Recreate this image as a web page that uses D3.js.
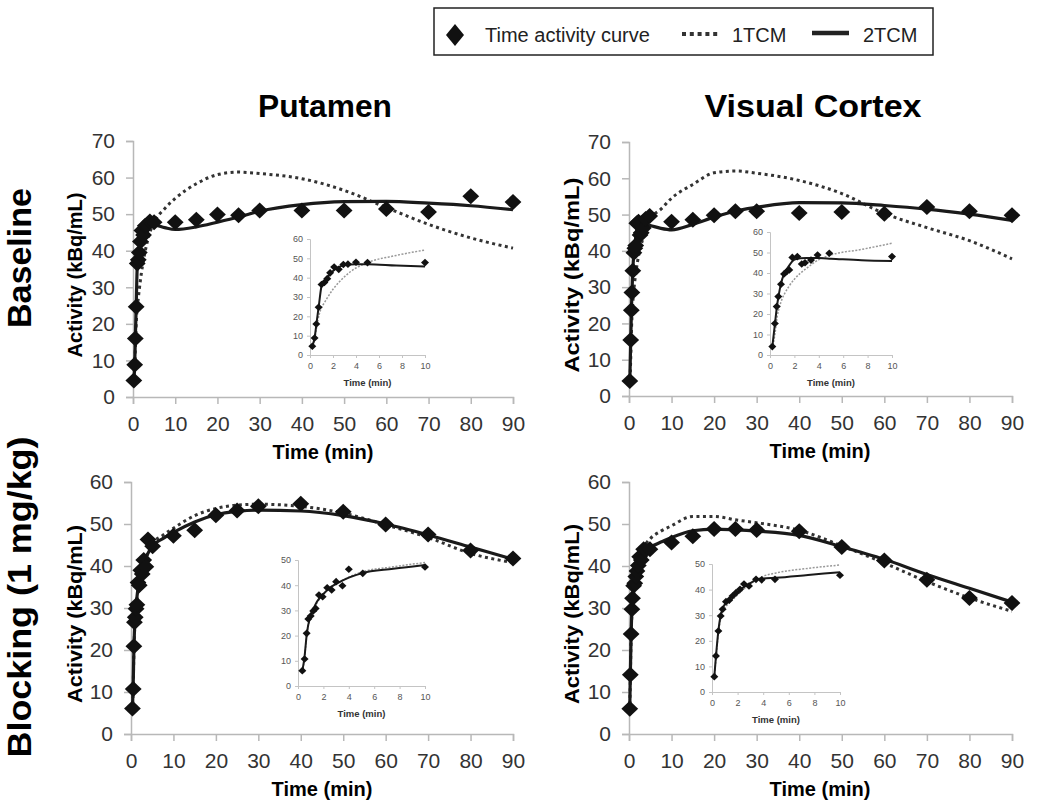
<!DOCTYPE html>
<html><head><meta charset="utf-8">
<script src="https://cdn.jsdelivr.net/npm/d3@7"></script>
<style>body{margin:0;background:#fff}</style>
</head><body>
<svg id="c" width="1050" height="812"></svg>
<script>
// ---------- DATA ----------
const timeTicksMain = [0,10,20,30,40,50,60,70,80,90];
const timeTicksInset = [0,2,4,6,8,10];
const activityTicksBaseline = [0,10,20,30,40,50,60,70];
const activityTicksBlocking = [0,10,20,30,40,50,60];
const insetTicksBaseline = [0,10,20,30,40,50,60];
const insetTicksBlocking = [0,10,20,30,40,50];

const columnTitles = ["Putamen", "Visual Cortex"];
const rowTitles = ["Baseline", "Blocking (1 mg/kg)"];
const legendLabels = ["Time activity curve", "1TCM", "2TCM"];

// Putamen, baseline
const putBaseTime = [0.2,0.4,0.55,0.75,1.0,1.25,1.5,1.75,2.1,2.5,2.9,3.3,4.0,5.0,10,15,20,25,30,40,50,60,70,80,90];
const putBaseTAC  = [4.5,8.8,16,24.7,36.5,37.5,39.5,42.5,45.5,44.3,46.8,47,48,47.8,47.8,48.5,49.9,49.7,51,51,51,51.4,50.6,54.9,53.3];
const putBaseFitTime = [0.2,0.4,0.6,0.8,1,1.25,1.5,2,2.5,3,4,5,7.5,10,15,20,25,30,40,50,60,70,80,90];
const putBase1TCM = [3,8,15,21,24.5,27,29.5,34,37.5,40.5,45,47.8,51.5,54.3,58.3,60.8,61.5,61.1,59.7,56.5,51.8,47.2,43.5,40.7];
const putBase2TCM = [4.5,9,18,27,35.5,38,40,43.5,45.5,46.5,47,47,46.3,45.8,46.5,47.8,49.2,50.8,52.6,53.4,53.5,53,52.3,51.2];

// Visual cortex, baseline
const vcBaseTime = [0.19,0.4,0.55,0.68,0.9,1.15,1.37,1.58,1.83,2.24,2.6,2.87,3.36,3.9,4.86,10,15,20,25,30,40,50,60,70,80,90];
const vcBaseTAC  = [4.1,15.4,23.6,28.5,34.5,39.5,40.7,41.5,47.6,48,44.4,45,46.3,48.8,49.6,48,48.6,49.8,50.9,50.9,50.4,50.7,50.2,52.1,50.9,49.8];
const vcBaseFitTime = [0.2,0.4,0.6,0.8,1,1.25,1.5,2,2.5,3,4,5,7.5,10,15,20,25,30,40,50,60,70,80,90];
const vcBase1TCM = [3,10,19,24,27.5,30.5,33,37,40,42.3,46.5,48.8,51.5,54.5,58.3,61.5,62,61.4,59.4,55.8,50.3,46.4,42.8,37.8];
const vcBase2TCM = [4.5,15,25,32,37,40.5,43,46.5,47.2,47.3,47.3,47,46.2,45.8,47.3,49.3,51,52,53.3,53.2,52.5,51.5,50.1,48.4];

// Putamen, blocking
const putBlockTime = [0.34,0.52,0.68,0.81,1.0,1.2,1.39,1.65,1.94,2.3,2.65,3.0,3.5,4.0,5.1,10,15,20,25,30,40,50,60,70,80,90];
const putBlockTAC  = [6.1,10.7,20.9,26.6,27.8,29.8,30.8,36.1,35.4,39,38.1,41.4,39.8,46.3,44.7,47.2,48.5,52.1,53.2,54.2,54.8,52.9,49.9,47.5,43.7,41.8];
const putBlockFitTime = [0.34,0.5,0.7,1,1.25,1.5,2,2.5,3,4,5,7.5,10,15,20,25,30,40,50,60,70,80,90];
const putBlock1TCM = [5.5,10.5,20.5,27.5,30.5,33,36.3,38.8,40.5,43.2,45.2,47.3,49,52,53.7,54.5,54.7,54.2,52.6,49.8,46.8,43,40.8];
const putBlock2TCM = [6,11,21,28,31,33.5,36.5,39,40.5,43,44.7,46.5,48,50.5,52.2,53,53.3,53.1,52,50,47.4,44.5,41.6];

// Visual cortex, blocking
const vcBlockTime = [0.18,0.31,0.5,0.68,0.83,1.09,1.35,1.6,1.88,2.19,2.5,2.89,3.44,3.88,4.92,10,15,20,25,30,40,50,60,70,80,90];
const vcBlockTAC  = [6,14.1,23.8,29.7,32.3,35.3,35.9,37.5,38.8,40.1,42.2,41.4,44,43.8,44,45.6,47.1,48.8,48.8,48.6,48.3,44.5,41.3,36.7,32.4,31.2];
const vcBlockFitTime = [0.18,0.31,0.5,0.68,0.83,1.1,1.5,2,2.5,3,3.5,4,5,7.5,10,15,20,25,30,40,50,60,70,80,90];
const vcBlock1TCM = [5.5,13,23,28.5,31,33.5,35.5,38,40.3,42.2,43.8,45.2,46.5,48.3,49.6,51.8,51.8,51,50.3,48.5,44.8,40.7,36.3,32.4,29.2];
const vcBlock2TCM = [6,14,24,30,32.5,35,37,39,41,42.5,44,44.3,44.6,45.7,46.8,48.4,48.8,48.6,48.3,47.3,44.6,41.6,38,34.7,31.4];

// ---------- LAYOUT ----------
const FONT = "'Liberation Sans', Arial, Helvetica, sans-serif";
const svg = d3.select("#c");

const panels = [
  {time:putBaseTime, tac:putBaseTAC, fitT:putBaseFitTime, one:putBase1TCM, two:putBase2TCM,
   yTicks:activityTicksBaseline, iyTicks:insetTicksBaseline,
   m:{x0:133,x1:513,y0:397,y1:141}, ins:{x0:310,x1:425,y0:355,y1:239},
   yLabX:75, yLabLen:165, xTitleX:323},
  {time:vcBaseTime, tac:vcBaseTAC, fitT:vcBaseFitTime, one:vcBase1TCM, two:vcBase2TCM,
   yTicks:activityTicksBaseline, iyTicks:insetTicksBaseline,
   m:{x0:629,x1:1012,y0:396,y1:142}, ins:{x0:770,x1:892,y0:355,y1:232},
   yLabX:572, yLabLen:195, xTitleX:820},
  {time:putBlockTime, tac:putBlockTAC, fitT:putBlockFitTime, one:putBlock1TCM, two:putBlock2TCM,
   yTicks:activityTicksBlocking, iyTicks:insetTicksBlocking,
   m:{x0:131,x1:513,y0:734,y1:482}, ins:{x0:298,x1:425,y0:686,y1:560},
   yLabX:75, yLabLen:178, xTitleX:322},
  {time:vcBlockTime, tac:vcBlockTAC, fitT:vcBlockFitTime, one:vcBlock1TCM, two:vcBlock2TCM,
   yTicks:activityTicksBlocking, iyTicks:insetTicksBlocking,
   m:{x0:629,x1:1012,y0:734,y1:482}, ins:{x0:712,x1:840,y0:692,y1:564},
   yLabX:572, yLabLen:180, xTitleX:820}
];

function diamond(r){
  return {draw(ctx,size){ ctx.moveTo(0,-r); ctx.lineTo(r*1.05,0); ctx.lineTo(0,r); ctx.lineTo(-r*1.05,0); ctx.closePath(); }};
}

function drawPlot(g, p, box, xMax, yTicks, xTicks, opts){
  const x = d3.scaleLinear().domain([0,xMax]).range([box.x0, box.x1]);
  const yMax = yTicks[yTicks.length-1];
  const y = d3.scaleLinear().domain([0,yMax]).range([box.y0, box.y1]);

  const ya = g.append("g").attr("transform",`translate(${box.x0},0)`)
    .call(d3.axisLeft(y).tickValues(yTicks).tickSize(opts.tick).tickPadding(opts.ypad).tickFormat(d3.format("d")));
  const xa = g.append("g").attr("transform",`translate(0,${box.y0})`)
    .call(d3.axisBottom(x).tickValues(xTicks).tickSize(opts.tick).tickPadding(opts.xpad).tickFormat(d3.format("d")));
  [ya,xa].forEach(a=>{
    a.selectAll("path.domain").attr("stroke",opts.axisColor).attr("stroke-width",opts.axisW);
    a.selectAll(".tick line").attr("stroke",opts.axisColor).attr("stroke-width",opts.axisW);
    a.selectAll(".tick text").attr("font-family",FONT).attr("font-size",opts.fs).attr("fill",opts.textColor);
  });

  const keep = t => t <= xMax + 0.01;
  const fit1 = p.fitT.map((t,i)=>[t,p.one[i]]).filter(d=>keep(d[0]));
  const fit2 = p.fitT.map((t,i)=>[t,p.two[i]]).filter(d=>keep(d[0]));
  const line = d3.line().x(d=>x(d[0])).y(d=>y(d[1])).curve(d3.curveMonotoneX);

  g.append("path").attr("d",line(fit1)).attr("fill","none")
    .attr("stroke",opts.dotColor).attr("stroke-width",opts.dotW).attr("stroke-dasharray",opts.dash);
  g.append("path").attr("d",line(fit2)).attr("fill","none")
    .attr("stroke","#1a1a1a").attr("stroke-width",opts.solidW).attr("stroke-linejoin","round");

  const sym = d3.symbol().type(diamond(opts.r));
  g.append("g").selectAll("path").data(p.time.map((t,i)=>[t,p.tac[i]]).filter(d=>keep(d[0])))
    .join("path").attr("d",sym).attr("fill","#111")
    .attr("transform",d=>`translate(${x(d[0])},${y(d[1])})`);
  return {x,y};
}

const mainOpts = {tick:7, ypad:11, xpad:12, axisColor:"#b8b8b8", axisW:1.5, fs:21, textColor:"#333",
  dotColor:"#333", dotW:3, dash:"3,3.5", solidW:3.2, r:8};
const insetOpts = {tick:3, ypad:4, xpad:5, axisColor:"#c4c4c4", axisW:1, fs:9, textColor:"#555",
  dotColor:"#999", dotW:1.5, dash:"2,1.5", solidW:2, r:3.8};

panels.forEach(p=>{
  const g = svg.append("g");
  drawPlot(g, p, p.m, 90, p.yTicks, timeTicksMain, mainOpts);
  drawPlot(g, p, p.ins, 10, p.iyTicks, timeTicksInset, insetOpts);

  // main axis titles
  g.append("text").attr("x",p.xTitleX).attr("y",p.m.y0+62).attr("text-anchor","middle")
    .attr("font-family",FONT).attr("font-weight","bold").attr("font-size",20).text("Time (min)");
  g.append("text").attr("transform",`translate(${p.yLabX},${(p.m.y0+p.m.y1)/2 + 6}) rotate(-90)`)
    .attr("text-anchor","middle").attr("dominant-baseline","central")
    .attr("font-family",FONT).attr("font-weight","bold").attr("font-size",20)
    .attr("textLength",p.yLabLen).attr("lengthAdjust","spacingAndGlyphs").text("Activity (kBq/mL)");
  // inset x title
  g.append("text").attr("x",(p.ins.x0+p.ins.x1)/2).attr("y",p.ins.y0+31).attr("text-anchor","middle")
    .attr("font-family",FONT).attr("font-weight","bold").attr("font-size",9.5).attr("fill","#333").text("Time (min)");
});

// column titles
const colX = [325, 813];
const colLen = [134, 217];
columnTitles.forEach((t,i)=>{
  svg.append("text").attr("x",colX[i]).attr("y",117).attr("text-anchor","middle")
    .attr("font-family",FONT).attr("font-weight","bold").attr("font-size",32)
    .attr("textLength",colLen[i]).attr("lengthAdjust","spacingAndGlyphs").text(t);
});
// row titles
const rowY = [258, 597];
const rowLen = [140, 321];
rowTitles.forEach((t,i)=>{
  svg.append("text").attr("transform",`translate(31,${rowY[i]}) rotate(-90)`).attr("text-anchor","middle")
    .attr("font-family",FONT).attr("font-weight","bold").attr("font-size",33)
    .attr("textLength",rowLen[i]).attr("lengthAdjust","spacingAndGlyphs").text(t);
});

// legend
const lg = svg.append("g");
lg.append("rect").attr("x",434).attr("y",8).attr("width",499).attr("height",47)
  .attr("fill","#fff").attr("stroke","#222").attr("stroke-width",1.5);
lg.append("path").attr("d","M455,24 L464,35 L455,46 L446,35 Z").attr("fill","#111");
lg.append("text").attr("x",485).attr("y",42).attr("font-family",FONT).attr("font-size",20).attr("fill","#222").text(legendLabels[0]);
lg.append("line").attr("x1",682).attr("x2",720).attr("y1",34).attr("y2",34)
  .attr("stroke","#333").attr("stroke-width",4).attr("stroke-dasharray","4,3.8");
lg.append("text").attr("x",732).attr("y",42).attr("font-family",FONT).attr("font-size",20).attr("fill","#222").text(legendLabels[1]);
lg.append("line").attr("x1",812).attr("x2",849).attr("y1",33).attr("y2",33)
  .attr("stroke","#222").attr("stroke-width",4.5);
lg.append("text").attr("x",863).attr("y",42).attr("font-family",FONT).attr("font-size",20).attr("fill","#222").text(legendLabels[2]);
</script>
</body></html>
